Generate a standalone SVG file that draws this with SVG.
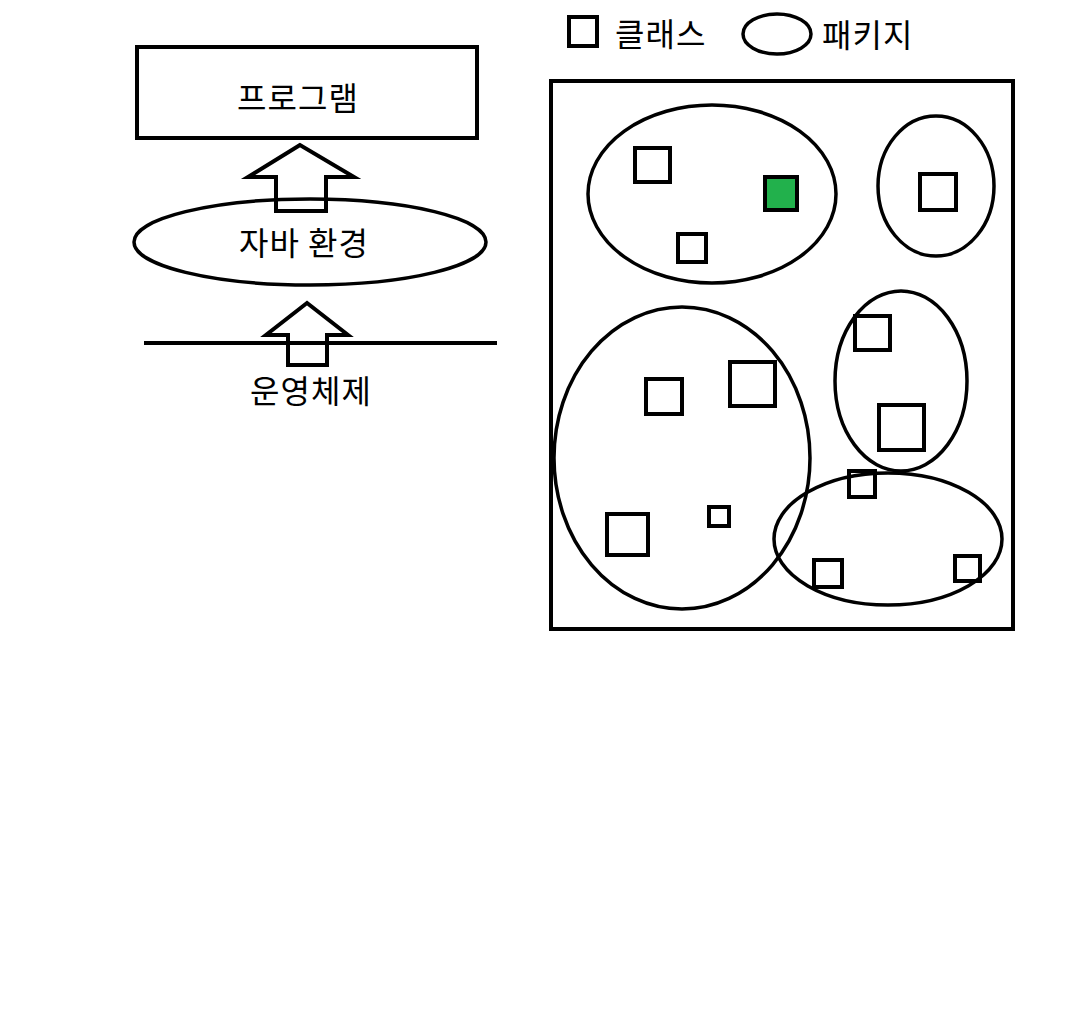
<svg xmlns="http://www.w3.org/2000/svg" width="1073" height="1016" viewBox="0 0 1073 1016">
<style>
.s{fill:none;stroke:#000;stroke-width:4}
.e{fill:none;stroke:#000;stroke-width:3.5}
.c{fill:none;stroke:#000;stroke-width:4}
.g{fill:#22b14c;stroke:#000;stroke-width:4}
.t{font-family:"Noto Sans CJK KR","Noto Sans",sans-serif;font-size:32px;letter-spacing:1px;fill:#000;dominant-baseline:central}
</style>
<rect width="1073" height="1016" fill="#fff"/>
<g id="program">
<rect class="s" x="137" y="47" width="340" height="91"/>
<text class="t" x="298" y="96" text-anchor="middle">프로그램</text>
</g>
<g id="java-env">
<ellipse class="e" cx="310" cy="242" rx="176" ry="43"/>
<text class="t" x="304" y="241" text-anchor="middle">자바 환경</text>
</g>
<g id="os">
<line class="s" x1="144" y1="343" x2="497" y2="343"/>
<text class="t" x="311" y="389" text-anchor="middle">운영체제</text>
</g>
<g id="connectors">
<polygon class="s" stroke-linejoin="miter" points="300,145 248,177 276,177 276,211 326,211 326,177 354,177"/>
<polygon class="s" stroke-linejoin="miter" points="307,303 266,335 288,335 288,365 327,365 327,335 348,335"/>
</g>
<g id="legend">
<rect class="c" x="569" y="17" width="28" height="29"/>
<text class="t" x="615" y="32">클래스</text>
<ellipse class="e" cx="777" cy="34" rx="34" ry="20"/>
<text class="t" x="822" y="33">패키지</text>
</g>
<g id="container">
<rect class="s" x="551" y="81" width="462" height="548"/>
</g>
<g id="package1">
<ellipse class="e" cx="712" cy="194" rx="124" ry="89"/>
<rect class="c" x="635" y="148" width="35" height="34"/>
<rect class="g" x="765" y="177" width="32" height="33"/>
<rect class="c" x="678" y="234" width="28" height="28"/>
</g>
<g id="package2">
<ellipse class="e" cx="936" cy="186" rx="58" ry="70"/>
<rect class="c" x="920" y="174" width="36" height="36"/>
</g>
<g id="package3">
<ellipse class="e" cx="682" cy="458" rx="128" ry="151"/>
<rect class="c" x="646" y="379" width="36" height="35"/>
<rect class="c" x="730" y="362" width="45" height="44"/>
<rect class="c" x="607" y="514" width="41" height="41"/>
<rect class="c" x="709" y="507" width="20" height="19"/>
</g>
<g id="package4">
<ellipse class="e" cx="901" cy="381" rx="66" ry="90"/>
<rect class="c" x="855" y="316" width="35" height="34"/>
<rect class="c" x="879" y="405" width="45" height="45"/>
</g>
<g id="package5">
<ellipse class="e" cx="888" cy="539" rx="114" ry="66"/>
<rect class="c" x="849" y="471" width="26" height="26"/>
<rect class="c" x="814" y="560" width="28" height="27"/>
<rect class="c" x="955" y="556" width="25" height="25"/>
</g>
</svg>
